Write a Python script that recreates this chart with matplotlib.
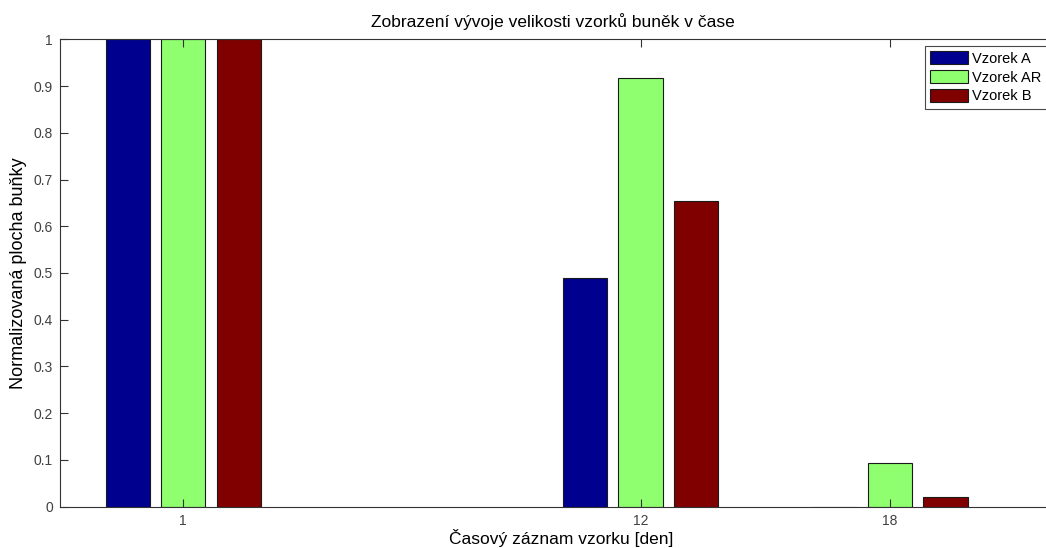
import numpy as np
import matplotlib
matplotlib.use("Agg")
import matplotlib.pyplot as plt

plt.rcParams['font.family'] = ['Liberation Sans', 'DejaVu Sans']

# sampling days and normalised cell area per sample
days = [1, 12, 18]
day_labels = ['1', '12', '18']
series_names = ['Vzorek A', 'Vzorek AR', 'Vzorek B']
vzorek_a = [1.0, 0.4887, 0.0]
vzorek_ar = [1.0, 0.9166, 0.0941]
vzorek_b = [1.0, 0.6547, 0.0214]
colors = ['#00008F', '#8FFF70', '#800000']

fig = plt.figure(figsize=(10.46, 5.48), dpi=100)
ax = fig.add_axes([60 / 1046, 1 - 506.7 / 548, 1 - 60 / 1046, (506.7 - 39.3) / 548])

x = np.array(days, dtype=float)
pitch = 4.0 / 3.0  # grouped bar spacing like matlab's bar()
width = 0.8 * pitch
for i, (vals, name, c) in enumerate(zip([vzorek_a, vzorek_ar, vzorek_b], series_names, colors)):
    ax.bar(x + (i - 1) * pitch, vals, width=width, color=c, edgecolor='#1a1a1a',
           linewidth=0.8, label=name)

ax.set_xlim(-1.966, 21.75)
ax.set_ylim(0, 1)
ax.set_xticks(days)
ax.set_xticklabels(day_labels)
yt = np.round(np.arange(0, 1.01, 0.1), 1)
ax.set_yticks(yt)
ax.set_yticklabels(['0' if v == 0 else ('1' if v == 1 else f'{v:g}') for v in yt])

ax.tick_params(direction='in', length=6, width=0.8, colors='#333333',
               labelcolor='#404040', labelsize=10, top=True, right=False, pad=5)
ax.tick_params(axis='x', pad=5)
ax.spines['right'].set_visible(False)
for s in ['left', 'bottom', 'top']:
    ax.spines[s].set_color('#333333')
    ax.spines[s].set_linewidth(0.8)

ax.set_title('Zobrazení vývoje velikosti vzorků buněk v čase', fontsize=12.5, pad=9)
ax.set_xlabel('Časový záznam vzorku [den]', fontsize=12.5)
ax.xaxis.set_label_coords((561 - 60) / 986, -0.048)
ax.set_ylabel('Normalizovaná plocha buňky', fontsize=13, labelpad=5)

leg = ax.legend(loc='upper left', bbox_to_anchor=((925 - 60) / 986, (506.7 - 46) / 467.4),
                fontsize=10.5, frameon=True, fancybox=False, handlelength=2.6,
                handleheight=1.0, handletextpad=0.3, labelspacing=0.3, borderpad=0.35,
                borderaxespad=0.0)
leg.get_frame().set_edgecolor('#1a1a1a')
leg.get_frame().set_linewidth(0.8)

fig.savefig('out.png', dpi=100, facecolor='white')
